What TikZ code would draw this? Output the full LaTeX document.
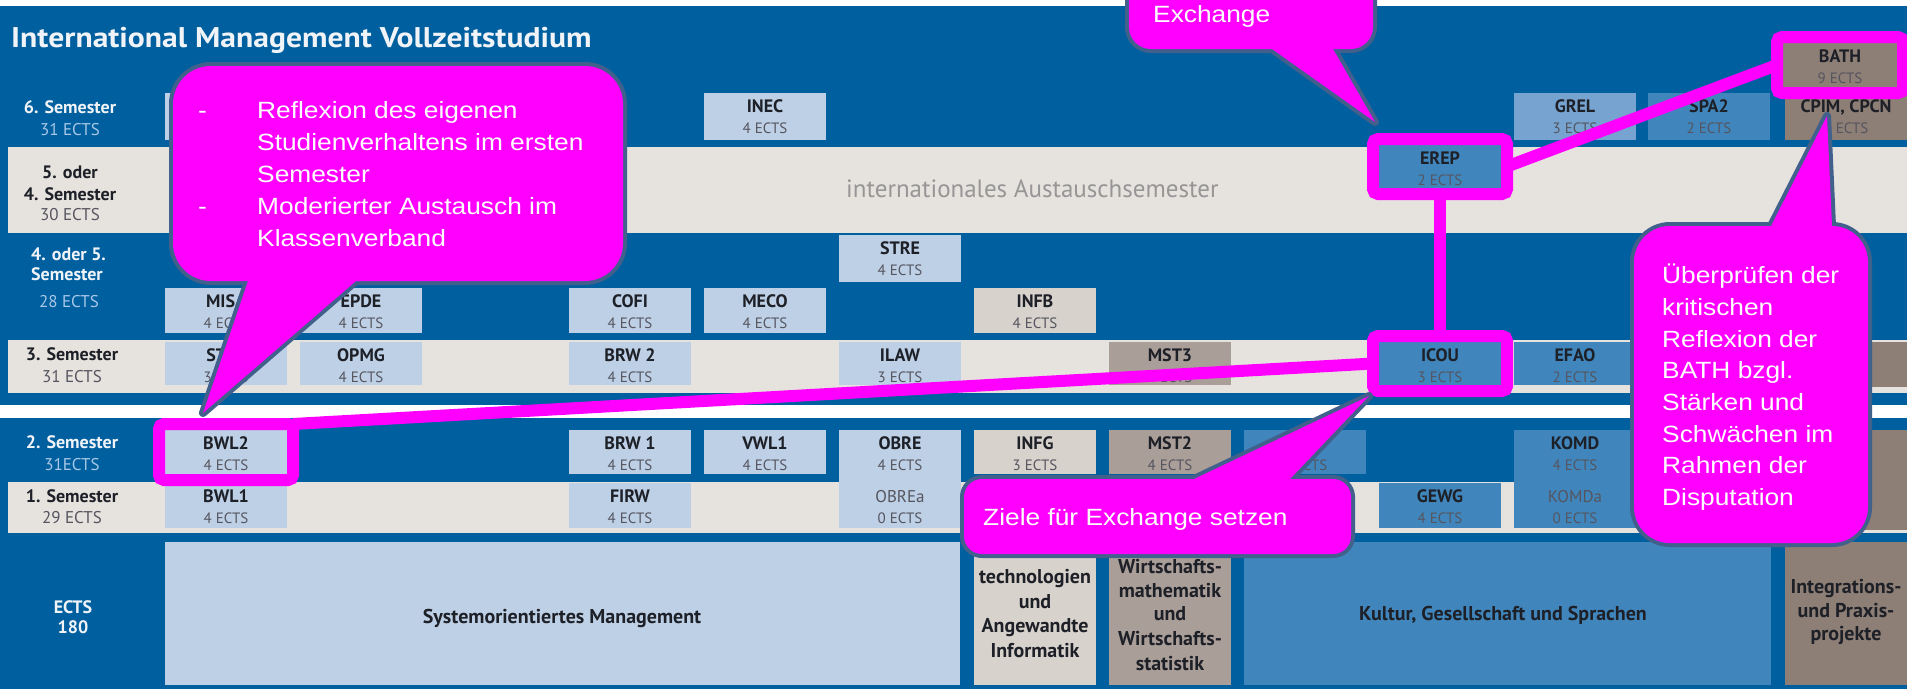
\documentclass[tikz,border=0pt]{standalone}
\usepackage{fontspec}
\setmainfont{PT Sans}
\newfontfamily\titlefont{PT Sans}[FakeStretch=1.11]
\newfontfamily\calfont{Liberation Sans}[FakeStretch=1.12]
\definecolor{bgblue}{RGB}{0,95,158}
\definecolor{band}{RGB}{230,226,222}
\definecolor{modlb}{RGB}{190,208,230}
\definecolor{modmb}{RGB}{64,134,188}
\definecolor{modgl}{RGB}{118,163,207}
\definecolor{modbe}{RGB}{216,210,204}
\definecolor{modgr}{RGB}{170,158,152}
\definecolor{modbr}{RGB}{141,126,118}
\definecolor{mag}{RGB}{255,0,255}
\definecolor{cbordc}{RGB}{65,96,140}
\definecolor{txtdark}{RGB}{30,32,40}
\definecolor{txtgray}{RGB}{85,85,95}
\definecolor{lwhite}{RGB}{240,244,248}
\definecolor{lblue}{RGB}{168,200,232}
\definecolor{iasgray}{RGB}{150,150,150}
\newcommand\modul[7]{%
  \node[mbox,#5,anchor=north west,minimum height=#4-#3] (#1) at (#2,#3) {};
  \node[mname,anchor=base] (#1n) at ([yshift=-19pt]#1.north) {#6};
  \node[mects,anchor=base] (#1e) at ([yshift=-40pt]#1.north) {#7};
}
\begin{document}
\begin{tikzpicture}[x=1pt,y=-1pt,
  mbox/.style={rectangle,inner sep=0pt,outer sep=0pt,minimum width=122pt,draw=none},
  lb/.style={fill=modlb}, mb/.style={fill=modmb}, gl/.style={fill=modgl},
  be/.style={fill=modbe}, gr/.style={fill=modgr}, br/.style={fill=modbr},
  mname/.style={font=\fontsize{18}{20}\selectfont\bfseries,text=txtdark,inner sep=0pt},
  mects/.style={font=\fontsize{15}{17}\selectfont,text=txtgray,inner sep=0pt},
  mname2/.style={font=\fontsize{17}{20}\selectfont,text=txtgray,inner sep=0pt,anchor=base},
  lw/.style={font=\fontsize{18}{20}\selectfont\bfseries,text=lwhite,inner sep=0pt,anchor=base},
  le/.style={font=\fontsize{17}{20}\selectfont,text=lblue,inner sep=0pt,anchor=base},
  ld/.style={font=\fontsize{18}{20}\selectfont\bfseries,text=txtdark,inner sep=0pt,anchor=base},
  lg/.style={font=\fontsize{17}{20}\selectfont,text=txtgray,inner sep=0pt,anchor=base},
  bt/.style={font=\fontsize{20}{22}\selectfont\bfseries,text=txtdark,inner sep=0pt,anchor=base},
  hl/.style={draw=mag,line width=12pt,rounded corners=5pt,inner sep=0pt,outer sep=0pt,minimum width=134pt,minimum height=55pt},
  conn/.style={draw=mag,line width=12pt},
  cbord/.style={draw=cbordc,line width=8pt,line join=round},
  cfill/.style={fill=mag},
  ctext/.style={font=\calfont\fontsize{23.5}{32}\selectfont,text=white,inner sep=0pt,anchor=base west}]
\useasboundingbox (0,0) rectangle (1907,689);
\clip (0,0) rectangle (1907,689);
\fill[white] (0,0) rectangle (1907,689);
\fill[bgblue] (0,6) rectangle (1907,689);
% bands
\fill[band] (8,147) rectangle (1907,233);
\fill[band] (8,340) rectangle (1907,393);
\fill[white] (0,405) rectangle (1907,418);
\fill[band] (8,482) rectangle (1907,533);
% title
\node[font=\titlefont\fontsize{28.5}{30}\selectfont\bfseries,text=lwhite,inner sep=0pt,anchor=base west] (title) at (11,47) {International Management Vollzeitstudium};
\node[font=\fontsize{25}{28}\selectfont,text=iasgray,inner sep=0pt,anchor=base west] (ias) at (846,197) {internationales Austauschsemester};
% left labels
\node[lw] (l6a) at (70,113) {6. Semester};
\node[le] (l6b) at (70,135) {31 ECTS};
\node[ld] (l5a) at (70,178) {5. oder};
\node[ld] (l5b) at (70,200) {4. Semester};
\node[lg] (l5c) at (70,220) {30 ECTS};
\node[lw,anchor=base west] (l4a) at (31,260) {4. oder 5.};
\node[lw,anchor=base west] (l4b) at (31,280) {Semester};
\node[le] (l4c) at (69,307) {28 ECTS};
\node[ld] (l3a) at (72,360) {3. Semester};
\node[lg] (l3b) at (72,382) {31 ECTS};
\node[lw] (l2a) at (72,448) {2. Semester};
\node[le] (l2b) at (72,470) {31ECTS};
\node[ld] (l1a) at (72,502) {1. Semester};
\node[lg] (l1b) at (72,523) {29 ECTS};
\node[lw] (le1) at (73,613) {ECTS};
\node[lw] (le2) at (73,633) {180};
% row 6
\modul{rsa}{165}{93}{140}{lb}{}{}
\modul{inec}{704}{93}{140}{lb}{INEC}{4 ECTS}
\modul{grel}{1514}{93}{140}{gl}{GREL}{3 ECTS}
\modul{spaz}{1648}{93}{140}{mb}{SPA2}{2 ECTS}
\modul{cpim}{1785}{93}{140}{br}{CPIM, CPCN}{4 ECTS}
\modul{bath}{1783}{43}{87}{br,minimum width=114pt}{BATH}{9 ECTS}
% band 5/4
\modul{erep}{1379}{145}{188}{mb}{EREP}{2 ECTS}
% row 4 or 5
\modul{stre}{839}{235}{282}{lb}{STRE}{4 ECTS}
\modul{misa}{165}{288}{333}{lb}{MISA}{4 ECTS}
\modul{epde}{300}{288}{333}{lb}{EPDE}{4 ECTS}
\modul{cofi}{569}{288}{333}{lb}{COFI}{4 ECTS}
\modul{meco}{704}{288}{333}{lb}{MECO}{4 ECTS}
\modul{infb}{974}{288}{333}{be}{INFB}{4 ECTS}
% row 3
\modul{stim}{165}{342}{385}{lb}{STIM}{3 ECTS}
\modul{opmg}{300}{342}{385}{lb}{OPMG}{4 ECTS}
\modul{brwz}{569}{342}{385}{lb}{BRW 2}{4 ECTS}
\modul{ilaw}{839}{342}{385}{lb}{ILAW}{3 ECTS}
\modul{mstd}{1109}{342}{385}{gr}{MST3}{4 ECTS}
\modul{icou}{1379}{342}{385}{mb}{ICOU}{3 ECTS}
\modul{efao}{1514}{342}{385}{mb}{EFAO}{2 ECTS}
\modul{rdm}{1785}{342}{387}{br}{}{}
% row 2
\modul{bwlz}{165}{430}{474}{lb}{BWL2}{4 ECTS}
\modul{brwe}{569}{430}{474}{lb}{BRW 1}{4 ECTS}
\modul{vwle}{704}{430}{474}{lb}{VWL1}{4 ECTS}
\modul{obre}{839}{430}{528}{lb}{OBRE}{4 ECTS}
\modul{infg}{974}{430}{474}{be}{INFG}{3 ECTS}
\modul{mstz}{1109}{430}{474}{gr}{MST2}{4 ECTS}
\modul{rzi}{1244}{430}{474}{mb}{}{4 ECTS}
\modul{komd}{1514}{430}{528}{mb}{KOMD}{4 ECTS}
\modul{rzm}{1785}{430}{530}{br}{}{}
\node[mname2] (obrea) at (900,502) {OBREa};
\node[mects,anchor=base] (obreae) at (900,523) {0 ECTS};
\node[mname2] (komda) at (1575,502) {KOMDa};
\node[mects,anchor=base] (komdae) at (1575,523) {0 ECTS};
% row 1
\modul{bwle}{165}{483}{528}{lb}{BWL1}{4 ECTS}
\modul{firw}{569}{483}{528}{lb}{FIRW}{4 ECTS}
\modul{gewg}{1379}{483}{528}{mb}{GEWG}{4 ECTS}
% bottom areas
\node[mbox,lb,anchor=north west,minimum width=795pt,minimum height=143pt] (sysb) at (165,542) {};
\node[mbox,be,anchor=north west,minimum height=143pt] (techb) at (974,542) {};
\node[mbox,gr,anchor=north west,minimum height=143pt] (wirtb) at (1109,542) {};
\node[mbox,mb,anchor=north west,minimum width=527pt,minimum height=143pt] (kultb) at (1244,542) {};
\node[mbox,br,anchor=north west,minimum height=143pt] (integb) at (1785,542) {};
\node[bt] (syst) at (562,623) {Systemorientiertes Management};
\node[bt] (kultt) at (1503,620) {Kultur, Gesellschaft und Sprachen};
\node[bt] (tech1) at (1035,583) {technologien};
\node[bt] (tech2) at (1035,608) {und};
\node[bt] (tech3) at (1035,632) {Angewandte};
\node[bt] (tech4) at (1035,657) {Informatik};
\node[bt] (wirt1) at (1170,573) {Wirtschafts-};
\node[bt] (wirt2) at (1170,597) {mathematik};
\node[bt] (wirt3) at (1170,620) {und};
\node[bt] (wirt4) at (1170,645) {Wirtschafts-};
\node[bt] (wirt5) at (1170,670) {statistik};
\node[bt] (int1) at (1846,593) {Integrations-};
\node[bt] (int2) at (1846,617) {und Praxis-};
\node[bt] (int3) at (1846,640) {projekte};
% highlights
\node[hl,minimum height=56pt] (bwlzh) at (bwlz.center) {};
\node[hl] (icouh) at (icou.center) {};
\node[hl] (ereph) at (erep.center) {};
\node[hl,minimum width=126pt,minimum height=56pt] (bathh) at (bath.center) {};
\draw[conn] (bwlzh.north east) -- (icouh.west);
\draw[conn] (ereph.south) -- (icouh.north);
\draw[conn] (ereph.east) -- (bathh.west);
% callout 1
\path[cbord,rounded corners=38pt] (173,66) rectangle (623,281);
\path[cbord] (248,281) -- (203,413) -- (356,281) -- cycle;
\path[cfill,rounded corners=38pt] (173,66) rectangle (623,281);
\path[cfill] (248,281) -- (203,413) -- (356,281) -- cycle;
\node[ctext] (cad1) at (198,118) {-};
\node[ctext] (cal1) at (257,118) {Reflexion des eigenen};
\node[ctext] (cal2) at (257,150) {Studienverhaltens im ersten};
\node[ctext] (cal3) at (257,182) {Semester};
\node[ctext] (cad2) at (198,214) {-};
\node[ctext] (cal4) at (257,214) {Moderierter Austausch im};
\node[ctext] (cal5) at (257,246) {Klassenverband};
% callout 3 (top)
\path[cbord,rounded corners=22pt] (1129,-60) rectangle (1373,49);
\path[cbord] (1272,49) -- (1375,122) -- (1333,49) -- cycle;
\path[cfill,rounded corners=22pt] (1129,-60) rectangle (1373,49);
\path[cfill] (1272,49) -- (1375,122) -- (1333,49) -- cycle;
\node[ctext] (ccl1) at (1153,22) {Exchange};
% callout 4
\path[cbord,rounded corners=36pt] (1634,226) rectangle (1868,543);
\path[cbord] (1771,226) -- (1827,116) -- (1832,226) -- cycle;
\path[cfill,rounded corners=36pt] (1634,226) rectangle (1868,543);
\path[cfill] (1771,226) -- (1827,116) -- (1832,226) -- cycle;
\node[ctext] (cdl1) at (1662,283) {Überprüfen der};
\node[ctext] (cdl2) at (1662,315) {kritischen};
\node[ctext] (cdl3) at (1662,347) {Reflexion der};
\node[ctext] (cdl4) at (1662,378) {BATH bzgl.};
\node[ctext] (cdl5) at (1662,410) {Stärken und};
\node[ctext] (cdl6) at (1662,442) {Schwächen im};
\node[ctext] (cdl7) at (1662,473) {Rahmen der};
\node[ctext] (cdl8) at (1662,505) {Disputation};
% callout 2
\path[cbord,rounded corners=18pt] (964,479) rectangle (1351,554);
\path[cbord] (1194,479) -- (1369,396) -- (1290,479) -- cycle;
\path[cfill,rounded corners=18pt] (964,479) rectangle (1351,554);
\path[cfill] (1194,479) -- (1369,396) -- (1290,479) -- cycle;
\node[ctext] (cbl1) at (983,525) {Ziele für Exchange setzen};
\end{tikzpicture}
\end{document}
